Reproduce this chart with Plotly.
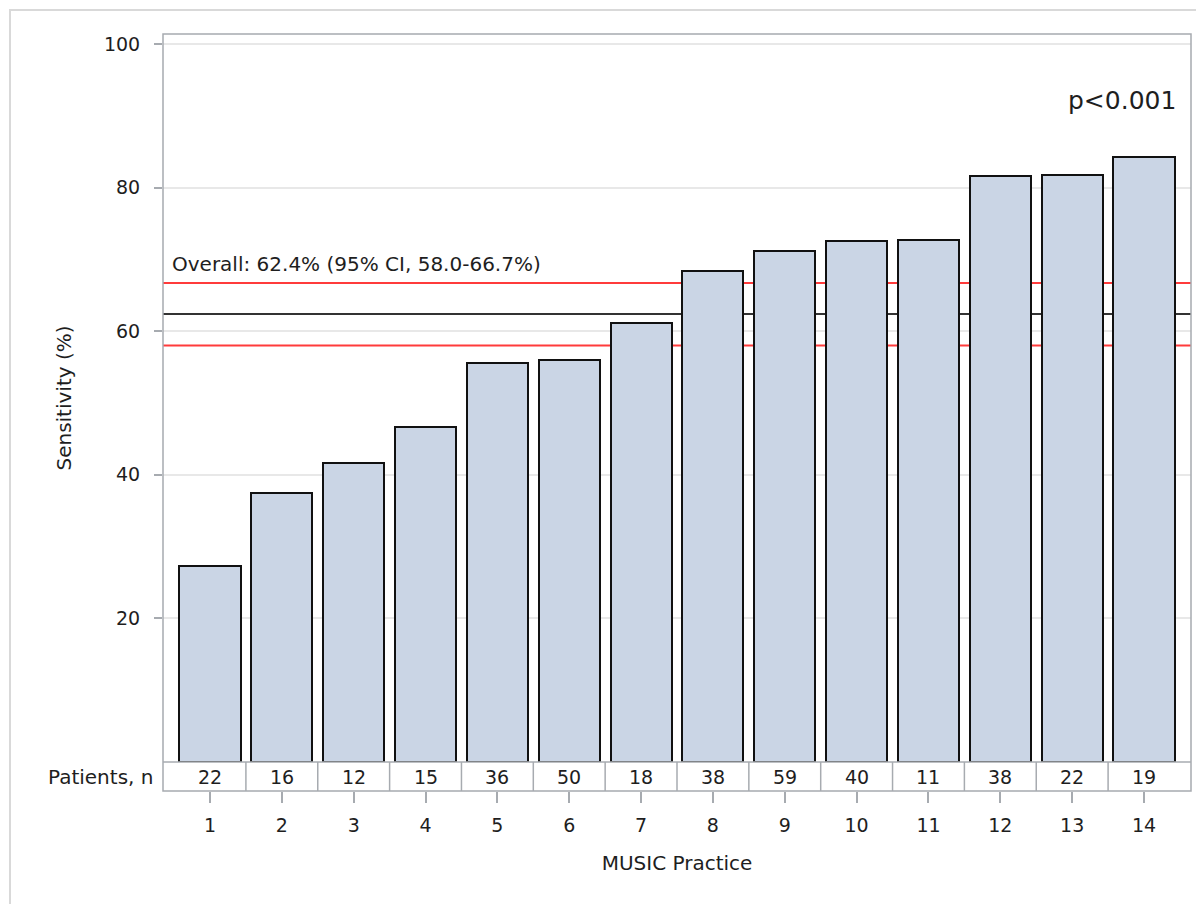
import plotly.graph_objects as go

practices = list(range(1, 15))
sensitivity = [27.3, 37.5, 41.7, 46.7, 55.6, 56.0, 61.1, 68.4, 71.2, 72.5, 72.7, 81.6, 81.8, 84.2]
patients_n = [22, 16, 12, 15, 36, 50, 18, 38, 59, 40, 11, 38, 22, 19]
overall = 62.4
ci_lo = 58.0
ci_hi = 66.7
y_ticks = [20, 40, 60, 80, 100]
p_text = "p<0.001"

# page body has an 8px margin, so the figure is shifted by 8px
OFF = 8
W, H = 1204 - OFF, 904 - OFF
ML, MT = 163 - OFF, 34 - OFF
MR = W - (1191 - OFF)
MB = H - (791 - OFF)
plot_w = W - ML - MR
plot_h = H - MT - MB
table_h = 29
y_dom0 = table_h / plot_h

FONT = "DejaVu Sans"
FS = 19
FS2 = 20
TXT = "#1e1e1e"
FRAME = "#a7abb0"

fig = go.Figure()
fig.add_trace(go.Bar(
    x=practices, y=sensitivity, width=0.85,
    marker=dict(color="#cad5e5", line=dict(color="#111111", width=2)),
    showlegend=False, hoverinfo="x+y",
))

shapes = []
for val, col in [(ci_hi, "#ff3b3b"), (overall, "#333333"), (ci_lo, "#ff3b3b")]:
    shapes.append(dict(type="line", xref="paper", yref="y", x0=0, x1=1, y0=val, y1=val,
                       line=dict(color=col, width=2), layer="between"))
shapes.append(dict(type="line", xref="paper", yref="paper", x0=0, x1=1, y0=y_dom0, y1=y_dom0,
                   line=dict(color=FRAME, width=1.5)))
for p in practices[:-1]:
    shapes.append(dict(type="line", xref="x", yref="paper", x0=p + 0.5, x1=p + 0.5, y0=0, y1=y_dom0,
                       line=dict(color=FRAME, width=1.5)))
shapes.append(dict(type="rect", xref="paper", yref="paper", x0=0, x1=1, y0=0, y1=1,
                   line=dict(color=FRAME, width=1.5)))
# outer border (screen x=10, y=10; extends past the window)
bx0 = 10 - OFF
by0 = 10 - OFF
shapes.append(dict(type="rect", xref="paper", yref="paper",
                   x0=(bx0 - ML) / plot_w, x1=(W + 20 - ML) / plot_w,
                   y0=(plot_h + MT - (H + 20)) / plot_h, y1=(plot_h + MT - by0) / plot_h,
                   line=dict(color="#d9d9d9", width=2)))

annotations = []
for p, n in zip(practices, patients_n):
    annotations.append(dict(x=p, y=y_dom0 / 2, xref="x", yref="paper", text=str(n), showarrow=False,
                            font=dict(family=FONT, size=FS, color=TXT), xanchor="center", yanchor="middle"))
annotations.append(dict(x=-8 / plot_w, y=y_dom0 / 2, xref="paper", yref="paper", text="Patients, n",
                        showarrow=False, font=dict(family=FONT, size=FS2, color=TXT),
                        xanchor="right", yanchor="middle"))
annotations.append(dict(x=7 / plot_w, y=ci_hi, xref="paper", yref="y",
                        text=f"Overall: {overall:.1f}% (95% CI, {ci_lo:.1f}-{ci_hi:.1f}%)",
                        showarrow=False, font=dict(family=FONT, size=FS2, color=TXT),
                        xanchor="left", yanchor="bottom", yshift=5))
annotations.append(dict(x=(1178 - 163) / plot_w, y=92.1, xref="paper", yref="y", text=p_text,
                        showarrow=False, font=dict(family=FONT, size=25, color="#1e1e1e"),
                        xanchor="right", yanchor="middle"))

y_top = (plot_h - table_h) / 7.18

fig.update_layout(
    width=W, height=H,
    margin=dict(l=ML, r=MR, t=MT, b=MB, pad=0),
    paper_bgcolor="white", plot_bgcolor="white",
    shapes=shapes, annotations=annotations,
    bargap=0,
    xaxis=dict(range=[0.346, 14.654], tickvals=practices, ticktext=[str(p) for p in practices],
               anchor="free", position=0, showgrid=False, zeroline=False, showline=False,
               ticks="outside", ticklen=11, tickwidth=1.5, tickcolor=FRAME,
               tickfont=dict(family=FONT, size=FS, color=TXT), ticklabelstandoff=6,
               title=dict(text="MUSIC Practice", font=dict(family=FONT, size=FS2, color=TXT), standoff=21)),
    yaxis=dict(domain=[y_dom0, 1], range=[0, y_top], tickvals=y_ticks,
               showgrid=True, gridcolor="#e8e8e8", gridwidth=1.5, zeroline=False, showline=False,
               ticks="outside", ticklen=8, tickwidth=1.5, tickcolor=FRAME,
               tickfont=dict(family=FONT, size=FS, color=TXT), ticklabelstandoff=10,
               title=dict(text="Sensitivity (%)", font=dict(family=FONT, size=FS2, color=TXT), standoff=26)),
)

fig.write_html("out.html")
